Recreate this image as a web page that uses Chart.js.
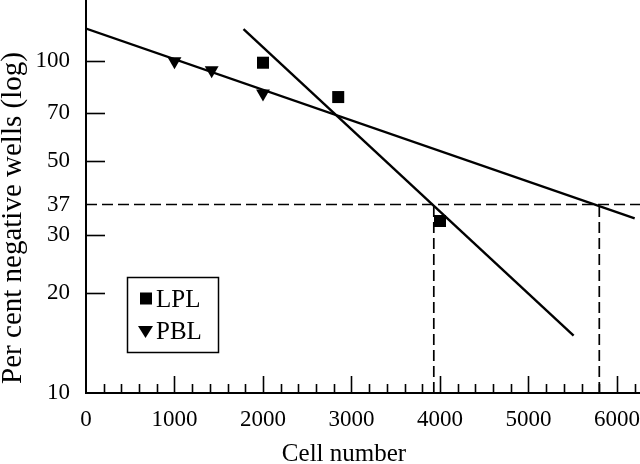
<!DOCTYPE html>
<html>
<head>
<meta charset="utf-8">
<script src="https://cdn.jsdelivr.net/npm/chart.js@4.4.1/dist/chart.umd.min.js"></script>
<style>
  html, body { margin: 0; padding: 0; background: #fff; }
  #wrap { width: 640px; height: 464px; }
</style>
</head>
<body>
<div id="wrap"><canvas id="chart" width="640" height="464"></canvas></div>
<script>
// --- data ---
const lplCells = [2000, 2850, 4000];
const lplPct = [99, 78, 33];
const pblCells = [1000, 1420, 2000];
const pblPct = [100, 94, 80];

// fitted lines (end points)
const lplFitCells = [1780, 5510];
const lplFitPct = [125, 14.9];
const pblFitCells = [0, 6200];
const pblFitPct = [125.5, 33.6];

// 37% reference and where each fit crosses it
const refPct = 37;
const crossCells = [3930, 5800];

const yTickValues = [10, 20, 30, 37, 50, 70, 100];
const yMarkValues = [20, 30, 50, 70, 100];
const xMin = 0, xMax = 6260;
const yMin = 10, yMax = 153;

const FONT = '"Liberation Serif", "Times New Roman", serif';

function pts(xs, ys) {
    return xs.map((x, i) => ({ x: x, y: ys[i] }));
}

// dashed guides
const guideSets = [
    { data: pts([xMin, xMax], [refPct, refPct]) },
    { data: pts([crossCells[0], crossCells[0]], [yMin, refPct]) },
    { data: pts([crossCells[1], crossCells[1]], [yMin, refPct]) }
].map(g => Object.assign(g, {
    showLine: true, borderColor: '#000', borderWidth: 1.7,
    borderDash: [11, 5], pointRadius: 0
}));

// tick marks inside the axes, legend box, axis titles
const decor = {
    id: 'decor',
    afterDraw(chart) {
        const ctx = chart.ctx;
        const xs = chart.scales.x, ys = chart.scales.y;
        const area = chart.chartArea;
        ctx.save();
        ctx.strokeStyle = '#000';
        ctx.fillStyle = '#000';
        ctx.lineWidth = 1.6;

        // y tick marks
        yMarkValues.forEach(v => {
            const py = Math.round(ys.getPixelForValue(v)) + 0.5;
            ctx.beginPath();
            ctx.moveTo(area.left, py);
            ctx.lineTo(area.left + 19, py);
            ctx.stroke();
        });
        // x tick marks, every 200, long ones at the thousands
        for (let v = 200; v <= xMax; v += 200) {
            const px = Math.round(xs.getPixelForValue(v)) + 0.5;
            const len = v % 1000 === 0 ? 17 : 9;
            ctx.beginPath();
            ctx.moveTo(px, area.bottom);
            ctx.lineTo(px, area.bottom - len);
            ctx.stroke();
        }

        // legend
        ctx.lineWidth = 1.5;
        ctx.strokeRect(127.5, 277.5, 91, 75);
        ctx.fillRect(140, 292.5, 12, 12);
        ctx.beginPath();
        ctx.moveTo(138, 326);
        ctx.lineTo(153, 326);
        ctx.lineTo(145.5, 338);
        ctx.closePath();
        ctx.fill();
        ctx.font = '25px ' + FONT;
        ctx.textAlign = 'left';
        ctx.textBaseline = 'alphabetic';
        ctx.fillText('LPL', 156, 307);
        ctx.fillText('PBL', 156, 339);

        // axis titles
        ctx.font = '25px ' + FONT;
        ctx.textAlign = 'center';
        ctx.fillText('Cell number', 344, 461);
        ctx.translate(21, 218);
        ctx.rotate(-Math.PI / 2);
        ctx.font = '29px ' + FONT;
        ctx.fillText('Per cent negative wells (log)', 0, 0);
        ctx.restore();
    }
};

new Chart(document.getElementById('chart'), {
    type: 'scatter',
    data: {
        datasets: [
            ...guideSets,
            {
                label: 'LPL fit', data: pts(lplFitCells, lplFitPct),
                showLine: true, borderColor: '#000', borderWidth: 2.4, pointRadius: 0
            },
            {
                label: 'PBL fit', data: pts(pblFitCells, pblFitPct),
                showLine: true, borderColor: '#000', borderWidth: 2.4, pointRadius: 0
            },
            {
                label: 'LPL', data: pts(lplCells, lplPct),
                pointStyle: 'rect', pointRadius: 8.5, borderWidth: 0,
                backgroundColor: '#000', borderColor: '#000'
            },
            {
                label: 'PBL', data: pts(pblCells, pblPct),
                pointStyle: 'triangle', pointRotation: 180, pointRadius: 8,
                borderWidth: 0, backgroundColor: '#000', borderColor: '#000'
            }
        ]
    },
    options: {
        responsive: false,
        animation: false,
        devicePixelRatio: 1,
        layout: { padding: 0, autoPadding: false },
        plugins: { legend: { display: false }, tooltip: { enabled: false } },
        scales: {
            x: {
                type: 'linear', min: xMin, max: xMax,
                grid: { display: false, drawTicks: false },
                border: { display: true, color: '#000', width: 2 },
                ticks: {
                    color: '#000', font: { family: FONT, size: 23 },
                    padding: 13, autoSkip: false, maxRotation: 0,
                    callback: v => (v % 1000 === 0 ? String(v) : '')
                },
                afterBuildTicks: s => {
                    const t = [];
                    for (let v = 0; v <= 6000; v += 1000) t.push({ value: v });
                    s.ticks = t;
                },
                afterFit: s => {
                    s.height = 71;
                    s.paddingLeft = 0; s.paddingRight = 0;
                }
            },
            y: {
                type: 'logarithmic', min: yMin, max: yMax,
                grid: { display: false, drawTicks: false },
                border: { display: true, color: '#000', width: 2 },
                ticks: {
                    color: '#000', font: { family: FONT, size: 23 },
                    padding: 16, autoSkip: false,
                    callback: v => String(v)
                },
                afterBuildTicks: s => {
                    s.ticks = yTickValues.map(v => ({ value: v }));
                },
                afterFit: s => {
                    s.width = 86;
                    s.paddingTop = 0; s.paddingBottom = 0;
                }
            }
        }
    },
    plugins: [decor]
});
</script>
</body>
</html>
